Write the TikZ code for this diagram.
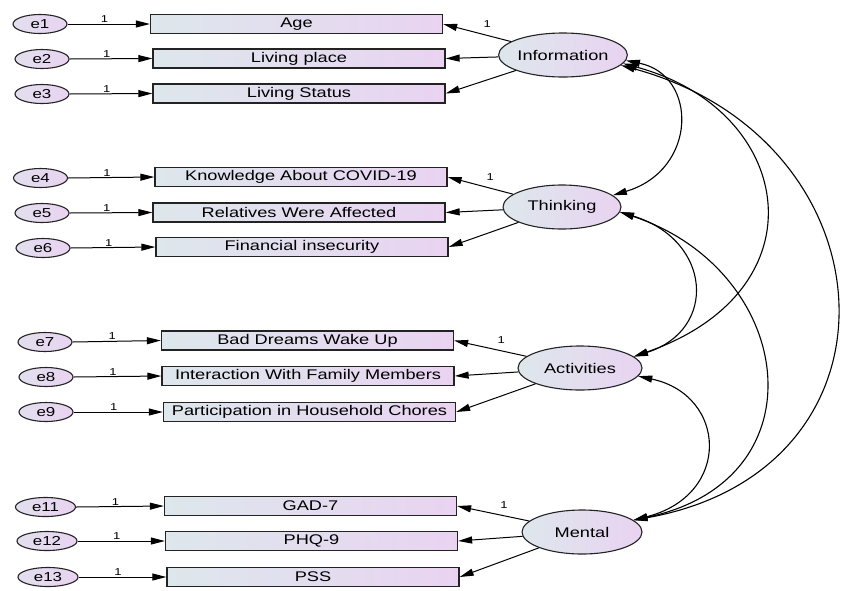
\documentclass[tikz,border=0pt]{standalone}
\usepackage{fontspec}
\setmainfont{Liberation Sans}[FakeStretch=1.3]
\usetikzlibrary{arrows.meta,shapes.geometric}
\definecolor{shadeL}{RGB}{221,231,236}
\definecolor{shadeR}{RGB}{233,211,241}
\definecolor{edge}{RGB}{35,35,35}
\begin{document}
\begin{tikzpicture}[x=1pt,y=-1pt,>={Triangle[length=14pt,width=7pt]},
	obs/.style={rectangle, draw=edge, line width=1.3pt, left color=shadeL, right color=shadeR,
		minimum width=292pt, minimum height=19pt, inner sep=0pt, font=\fontsize{14}{16}\selectfont},
	err/.style={ellipse, draw=edge, line width=1.1pt, left color=shadeL!60!shadeR, right color=shadeR,
		minimum width=54pt, minimum height=19pt, inner sep=1pt, font=\fontsize{13}{15}\selectfont},
	lat/.style={ellipse, draw=edge, line width=1.1pt, left color=shadeL, right color=shadeR,
		minimum width=118pt, minimum height=44pt, inner sep=0pt, font=\fontsize{14}{16}\selectfont},
	path/.style={->, line width=1pt},
	cov/.style={<->, line width=1.1pt},
	one/.style={font=\fontsize{10}{11}\selectfont, inner sep=1pt}]
	\useasboundingbox (0,0) rectangle (843,590);
	% latent variables
	\node (Info) at (563, 55)	[lat]	{Information};
	\node (Think) at (562,207)	[lat]	{Thinking};
	\node (Act) at (580,368)	[lat, minimum width=124pt]	{Activities};
	\node (Ment) at (582,532)	[lat, minimum width=120pt]	{Mental};
	% observed variables
	\node (Age) at (296.5, 24)	[obs]	{Age};
	\node (Place) at (299, 58.5)	[obs]	{Living place};
	\node (Status) at (299, 93.5)	[obs]	{Living Status};
	\node (Know) at (301,177)	[obs]	{Knowledge About COVID-19};
	\node (Rel) at (299,212.5)	[obs]	{Relatives Were Affected};
	\node (Fin) at (302,247)	[obs]	{Financial insecurity};
	\node (Dream) at (307.5,340.5)	[obs]	{Bad Dreams Wake Up};
	\node (Fam) at (308,376)	[obs]	{Interaction With Family Members};
	\node (Chore) at (309.5,412)	[obs]	{Participation in Household Chores};
	\node (GAD) at (310.5,506)	[obs]	{GAD-7};
	\node (PHQ) at (311.5,541)	[obs]	{PHQ-9};
	\node (PSS) at (313,577)	[obs]	{PSS};
	% error terms
	\node (e1) at (40, 24)	[err]	{e1};
	\node (e2) at (42, 59)	[err]	{e2};
	\node (e3) at (42, 94)	[err]	{e3};
	\node (e4) at (40.5,178)	[err]	{e4};
	\node (e5) at (42,213)	[err]	{e5};
	\node (e6) at (43,248)	[err]	{e6};
	\node (e7) at (45,342)	[err]	{e7};
	\node (e8) at (46,377)	[err]	{e8};
	\node (e9) at (46,412)	[err]	{e9};
	\node (e11) at (45.5,507)	[err, minimum width=60pt]	{e11};
	\node (e12) at (47,541)	[err, minimum width=60pt]	{e12};
	\node (e13) at (48,577)	[err, minimum width=60pt]	{e13};
	\foreach \e/\o in {e1/Age, e2/Place, e3/Status, e4/Know, e5/Rel, e6/Fin,
		e7/Dream, e8/Fam, e9/Chore, e11/GAD, e12/PHQ, e13/PSS}
		\draw[path] (\e.east) -- node[one, pos=0.45, above] {1} (\o.west);
	% loadings
	\draw[path] (Info) -- node[one, pos=0.35, above=6pt] {1} (Age.east);
	\draw[path] (Info) -- (Place.east);
	\draw[path] (Info) -- (Status.east);
	\draw[path] (Think) -- node[one, pos=0.35, above=6pt] {1} (Know.east);
	\draw[path] (Think) -- (Rel.east);
	\draw[path] (Think) -- (Fin.east);
	\draw[path] (Act) -- node[one, pos=0.35, above=6pt] {1} (Dream.east);
	\draw[path] (Act) -- (Fam.east);
	\draw[path] (Act) -- (Chore.east);
	\draw[path] (Ment) -- node[one, pos=0.35, above=6pt] {1} (GAD.east);
	\draw[path] (Ment) -- (PHQ.east);
	\draw[path] (Ment) -- (PSS.east);
	% covariances
	\draw[cov] (Info.-5) .. controls (698,75) and (698,170) .. (Think.13);
	\draw[cov] (Info.-8) .. controls (795,110) and (825,290) .. (Act.12);
	\draw[cov] (Info.-10) .. controls (895,140) and (915,470) .. (Ment.13);
	\draw[cov] (Think.-5) .. controls (712,240) and (718,330) .. (Act.12);
	\draw[cov] (Think.-5) .. controls (795,270) and (825,480) .. (Ment.13);
	\draw[cov] (Act.-8) .. controls (727,395) and (732,495) .. (Ment.13);
\end{tikzpicture}
\end{document}
